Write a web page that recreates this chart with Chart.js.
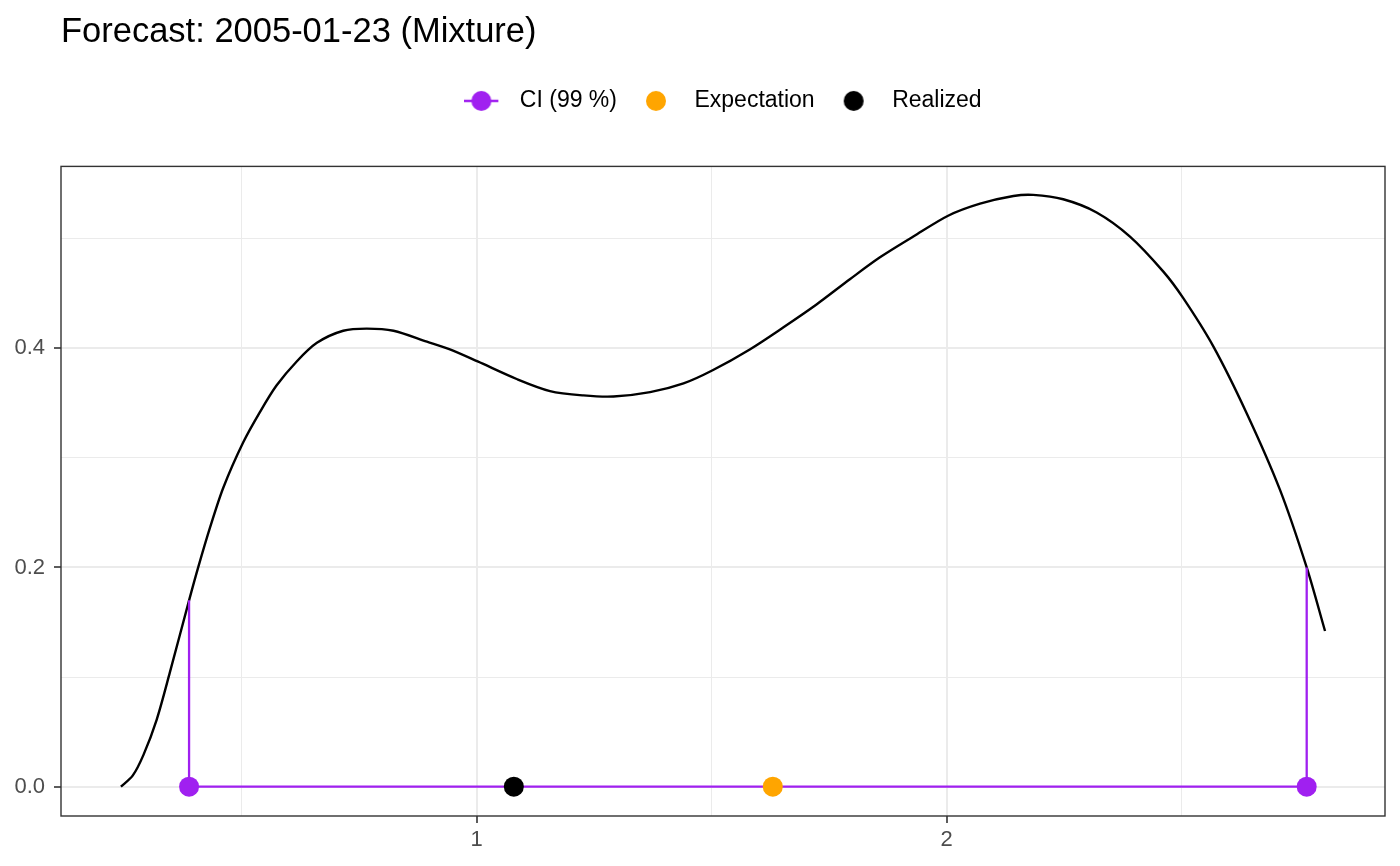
<!DOCTYPE html>
<html>
<head>
<meta charset="utf-8">
<title>Forecast: 2005-01-23 (Mixture)</title>
<script src="https://cdn.jsdelivr.net/npm/chart.js@4/dist/chart.umd.min.js"></script>
<style>
  html, body { margin: 0; padding: 0; background: #fff; }
  #wrap { width: 1400px; height: 866px; }
</style>
</head>
<body>
<div id="wrap"><canvas id="forecastChart"></canvas></div>
<script>
// forecast density of the mixture
const densityX = [0.243, 0.268, 0.291, 0.319, 0.347, 0.388, 0.408, 0.433, 0.461, 0.503,
  0.539, 0.574, 0.617, 0.660, 0.716, 0.766, 0.823, 0.894, 0.943, 1.002,
  1.085, 1.156, 1.227, 1.291, 1.369, 1.440, 1.502, 1.581, 1.652, 1.723,
  1.794, 1.858, 1.929, 2.003, 2.071, 2.142, 2.184, 2.248, 2.319, 2.390,
  2.461, 2.503, 2.567, 2.638, 2.709, 2.766, 2.805];
const densityY = [0.000, 0.010, 0.029, 0.061, 0.104, 0.170, 0.201, 0.237, 0.273, 0.314,
  0.342, 0.366, 0.388, 0.405, 0.416, 0.418, 0.416, 0.406, 0.399, 0.388,
  0.372, 0.361, 0.357, 0.356, 0.360, 0.368, 0.380, 0.399, 0.419, 0.440,
  0.463, 0.483, 0.502, 0.521, 0.532, 0.539, 0.540, 0.536, 0.524, 0.502,
  0.470, 0.446, 0.402, 0.341, 0.271, 0.200, 0.142];

// 99 % interval: bounds and the density at each bound
const ciBounds = [0.388, 2.766];
const ciDensity = [0.170, 0.200];

const expectation = 1.630;
const realized = 1.079;

// labelled (major) ticks
const xTicks = [1, 2];
const yTicks = [0.0, 0.2, 0.4];

const seriesNames = ['CI (99 %)', 'Expectation', 'Realized'];
const seriesColors = ['#A020F0', '#FFA500', '#000000'];

const FONT = "'Liberation Sans', Arial, Helvetica, sans-serif";
const isMajor = (v, list) => list.some(t => Math.abs(t - v) < 1e-6);

// legend keys: small canvases, glyph in the left 34px
function legendKey(color, withLine) {
  const c = document.createElement('canvas');
  c.width = 44;
  c.height = 24;
  const g = c.getContext('2d');
  if (withLine) {
    g.strokeStyle = color;
    g.lineWidth = 2.5;
    g.beginPath();
    g.moveTo(0, 12);
    g.lineTo(34, 12);
    g.stroke();
  }
  g.fillStyle = color;
  g.beginPath();
  g.arc(17, 12, 10, 0, Math.PI * 2);
  g.fill();
  return c;
}
const keys = [legendKey(seriesColors[0], true), legendKey(seriesColors[1], false), legendKey(seriesColors[2], false)];

const panelBorder = {
  id: 'panelBorder',
  afterDatasetsDraw(chart) {
    const {ctx, chartArea: a} = chart;
    ctx.save();
    ctx.strokeStyle = '#333333';
    ctx.lineWidth = 1.4;
    ctx.strokeRect(a.left, a.top, a.right - a.left, a.bottom - a.top);
    ctx.restore();
  }
};

const gridOpts = (list) => ({
  color: '#EBEBEB',
  lineWidth: (c) => isMajor(c.tick.value, list) ? 2 : 1,
  tickColor: (c) => isMajor(c.tick.value, list) ? '#333333' : 'rgba(0,0,0,0)',
  tickWidth: 1.6,
  tickLength: 7
});

const densityPoints = densityX.map((x, i) => ({x: x, y: densityY[i]}));
const ciPoints = [
  {x: ciBounds[0], y: ciDensity[0]},
  {x: ciBounds[0], y: 0},
  {x: ciBounds[1], y: 0},
  {x: ciBounds[1], y: ciDensity[1]}
];

new Chart(document.getElementById('forecastChart'), {
  type: 'scatter',
  data: {
    datasets: [
      {
        label: seriesNames[2],
        data: [{x: realized, y: 0}],
        backgroundColor: seriesColors[2],
        pointRadius: 10,
        pointHoverRadius: 10,
        pointBorderWidth: 0
      },
      {
        label: seriesNames[1],
        data: [{x: expectation, y: 0}],
        backgroundColor: seriesColors[1],
        pointRadius: 10,
        pointHoverRadius: 10,
        pointBorderWidth: 0
      },
      {
        label: seriesNames[0],
        data: ciPoints,
        showLine: true,
        borderColor: seriesColors[0],
        backgroundColor: seriesColors[0],
        borderWidth: 2.3,
        tension: 0,
        pointRadius: [0, 10, 10, 0],
        pointHoverRadius: [0, 10, 10, 0],
        pointBorderWidth: 0
      },
      {
        label: 'density',
        data: densityPoints,
        showLine: true,
        borderColor: '#000000',
        borderWidth: 2.4,
        tension: 0.3,
        pointRadius: 0,
        pointHoverRadius: 0
      }
    ]
  },
  options: {
    responsive: true,
    maintainAspectRatio: false,
    animation: false,
    layout: { padding: { right: 15 } },
    plugins: {
      title: {
        display: true,
        text: 'Forecast: 2005-01-23 (Mixture)',
        align: 'start',
        fullSize: false,
        color: '#000000',
        font: { family: FONT, size: 34.5, weight: 'normal' },
        padding: { top: 12, bottom: 14 }
      },
      legend: {
        display: true,
        position: 'top',
        fullSize: false,
        onClick: null,
        labels: {
          usePointStyle: true,
          pointStyleWidth: 44,
          padding: 22,
          color: '#000000',
          font: { family: FONT, size: 23 },
          generateLabels: () => seriesNames.map((name, i) => ({
            text: name,
            pointStyle: keys[i],
            fillStyle: seriesColors[i],
            strokeStyle: seriesColors[i],
            lineWidth: 0,
            hidden: false,
            fontColor: '#000000',
            datasetIndex: 2 - i
          }))
        }
      },
      // empty subtitle used as the gap between legend and panel
      subtitle: {
        display: true,
        text: '',
        weight: 500,
        font: { size: 10, lineHeight: 1 },
        padding: { top: 0, bottom: 34 }
      },
      tooltip: { enabled: false }
    },
    scales: {
      x: {
        type: 'linear',
        min: 0.1155,
        max: 2.9326,
        border: { display: false },
        grid: gridOpts(xTicks),
        ticks: {
          stepSize: 0.5,
          includeBounds: false,
          autoSkip: false,
          maxRotation: 0,
          padding: 4,
          color: '#4D4D4D',
          font: { family: FONT, size: 22 },
          callback: (v) => isMajor(v, xTicks) ? String(v) : ''
        },
        afterFit: (s) => { s.height = 50; }
      },
      y: {
        type: 'linear',
        min: -0.0268,
        max: 0.566,
        border: { display: false },
        grid: gridOpts(yTicks),
        ticks: {
          stepSize: 0.1,
          includeBounds: false,
          autoSkip: false,
          padding: 9,
          color: '#4D4D4D',
          font: { family: FONT, size: 22 },
          callback: (v) => isMajor(v, yTicks) ? v.toFixed(1) : ''
        },
        afterFit: (s) => { s.width = 61; }
      }
    }
  },
  plugins: [panelBorder]
});
</script>
</body>
</html>
